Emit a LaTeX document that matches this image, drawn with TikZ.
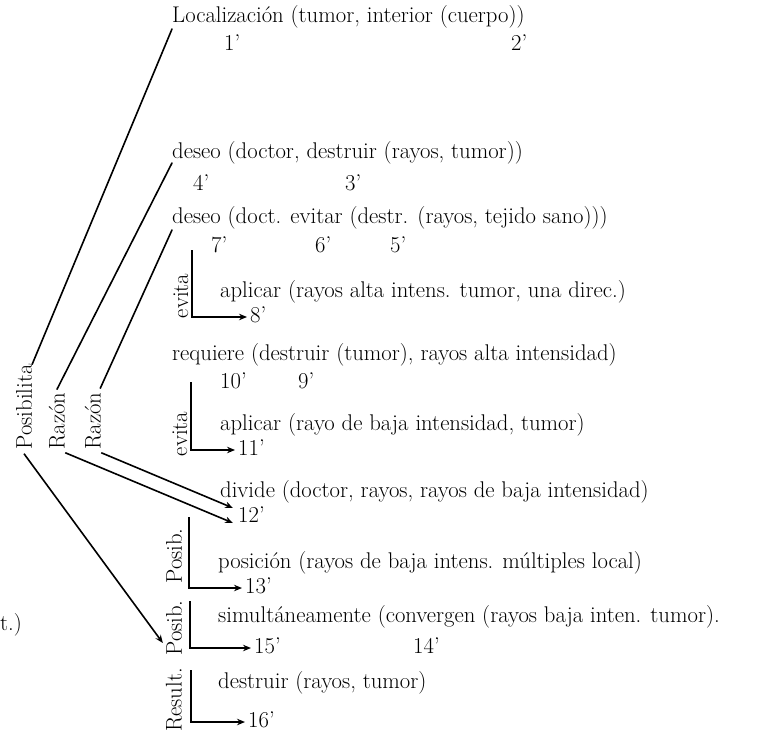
\documentclass[tikz,border=0pt]{standalone}
\usetikzlibrary{arrows.meta}
\begin{document}
\begin{tikzpicture}[x=1pt,y=-1pt,
  every node/.style={font=\fontsize{22.7}{27}\selectfont, inner sep=0pt, text=black},
  txt/.style={anchor=base west},
  vlab/.style={rotate=90, anchor=center},
  ln/.style={line width=1.6pt, line cap=round},
  arr/.style={line width=1.6pt, -{Stealth[length=8pt,width=6.5pt]}},
]
\useasboundingbox[fill=white] (0,0) rectangle (773,736);

% propositions
\node[txt] (loc) at (172,23) {Localización (tumor, interior (cuerpo))};
\node[txt] (n1) at (224,50) {1'};
\node[txt] (n2) at (511,50) {2'};
\node[txt] (d1) at (172,158) {deseo (doctor, destruir (rayos, tumor))};
\node[txt] (n4) at (193,190) {4'};
\node[txt] (n3) at (345,190) {3'};
\node[txt] (d2) at (172,223) {deseo (doct. evitar (destr. (rayos, tejido sano)))};
\node[txt] (n7) at (211,252) {7'};
\node[txt] (n6) at (315,252) {6'};
\node[txt] (n5) at (390,252) {5'};
\node[txt] (a1) at (220,297) {aplicar (rayos alta intens. tumor, una direc.)};
\node[txt] (n8) at (250,322) {8'};
\node[txt] (r1) at (172,360) {requiere (destruir (tumor), rayos alta intensidad)};
\node[txt] (n10) at (220,388) {10'};
\node[txt] (n9) at (298,388) {9'};
\node[txt] (a2) at (220,430) {aplicar (rayo de baja intensidad, tumor)};
\node[txt] (n11) at (238,455) {11'};
\node[txt] (dv) at (220,497) {divide (doctor, rayos, rayos de baja intensidad)};
\node[txt] (n12) at (238,522) {12'};
\node[txt] (ps) at (218,568) {posición (rayos de baja intens. múltiples local)};
\node[txt] (n13) at (245,593) {13'};
\node[txt] (sm) at (218,622) {simultáneamente (convergen (rayos baja inten. tumor).};
\node[txt] (n15) at (254,653) {15'};
\node[txt] (n14) at (413,653) {14'};
\node[txt] (ds) at (218,688) {destruir (rayos, tumor)};
\node[txt] (n16) at (248,727) {16'};
\node[txt] (tt) at (0,630) {t.)};

% rotated relation labels
\node[vlab] (pos) at (24,407) {Posibilita};
\node[vlab] (raz1) at (57,421) {Razón};
\node[vlab] (raz2) at (93,421) {Razón};
\node[vlab] (ev1) at (181,296) {evita};
\node[vlab] (ev2) at (180,434) {evita};
\node[vlab] (pb1) at (174,556) {Posib.};
\node[vlab] (pb2) at (174,628) {Posib.};
\node[vlab] (res) at (174,700) {Result.};

% long connectors
\draw[ln] (pos.south east) -- ([yshift=-6pt]loc.base west);
\draw[ln] ([yshift=3pt]raz1.east) -- ([yshift=-5pt]d1.base west);
\draw[ln] ([xshift=-1pt,yshift=4pt]raz2.south east) -- ([yshift=-7pt]d2.base west);
\draw[arr] ([yshift=-4pt]pos.west) -- ([xshift=-3pt,yshift=-15pt]pb2.north);
\draw[arr] ([yshift=-3pt]raz1.south west) -- ([xshift=-5pt,yshift=-1pt]n12.base west);
\draw[arr] ([yshift=-3pt]raz2.south west) -- ([xshift=-5pt,yshift=14pt]n12.base west);

% brackets
\coordinate (v1) at (192,250);
\coordinate (v2) at (191,382);
\coordinate (v3) at (189,517);
\coordinate (v4) at (190,601);
\coordinate (v5) at (191,670);
\draw[arr] (v1) |- ([xshift=-3pt,yshift=5pt]n8.base west);
\draw[arr] (v2) |- ([xshift=-3pt,yshift=5pt]n11.base west);
\draw[arr] (v3) |- ([xshift=-3pt,yshift=5pt]n13.base west);
\draw[arr] (v4) |- ([xshift=-3pt,yshift=5pt]n15.base west);
\draw[arr] (v5) |- ([xshift=-3pt,yshift=5pt]n16.base west);
\end{tikzpicture}
\end{document}
